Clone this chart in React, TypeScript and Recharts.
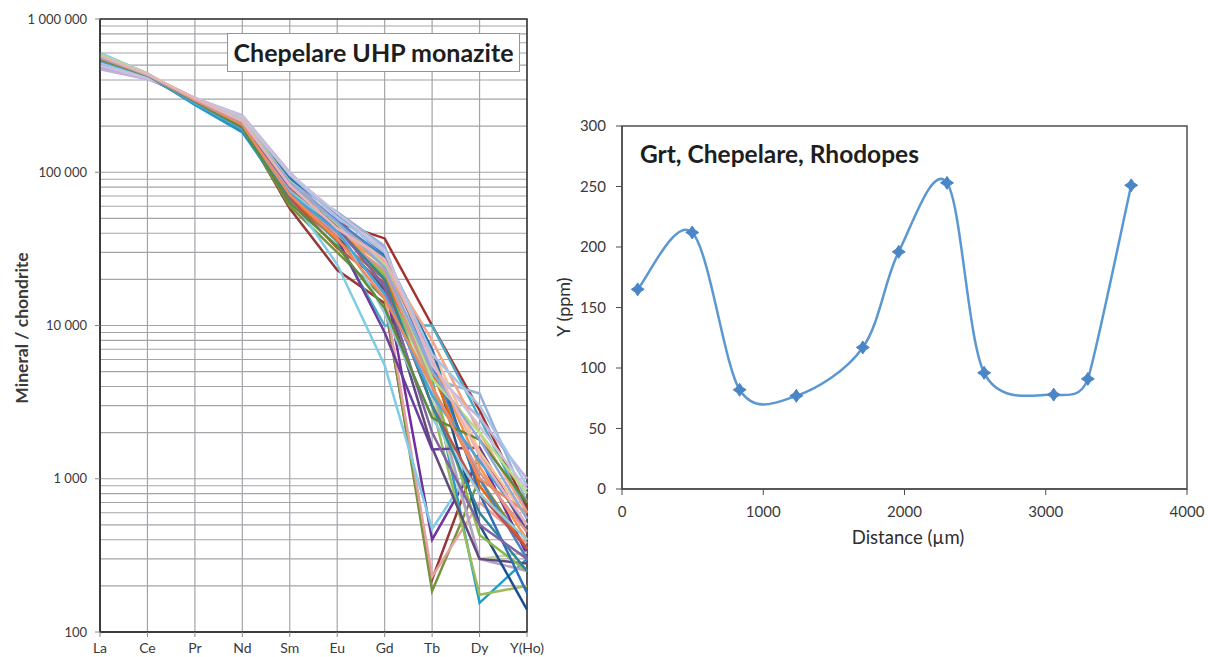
import React from "react";
import {
  LineChart,
  Line,
  XAxis,
  YAxis,
  CartesianGrid,
  ReferenceArea,
} from "recharts";

// left panel: chondrite-normalised REE patterns, Chepelare UHP monazite
const elements = ["La", "Ce", "Pr", "Nd", "Sm", "Eu", "Gd", "Tb", "Dy", "Y(Ho)"];
const logTicks = [100, 1000, 10000, 100000, 1000000];
const logGridValues = [
  100, 200, 300, 400, 500, 600, 700, 800, 900,
  1000, 2000, 3000, 4000, 5000, 6000, 7000, 8000, 9000,
  10000, 20000, 30000, 40000, 50000, 60000, 70000, 80000, 90000,
  100000, 200000, 300000, 400000, 500000, 600000, 700000, 800000, 900000,
  1000000,
];

// one row per analysed spot, values in element order
const spots: number[][] = [
  [500000, 420000, 300000, 205000, 75000, 47000, 37000, 10000, 2800, 650],
  [530000, 430000, 305000, 200000, 58000, 23000, 14000, 220, 1500, 450],
  [490000, 420000, 290000, 195000, 60000, 30000, 15000, 185, 1000, 350],
  [560000, 425000, 295000, 210000, 80000, 40000, 16000, 230, 700, 380],
  [520000, 415000, 300000, 215000, 85000, 45000, 20000, 400, 1400, 320],
  [600000, 440000, 280000, 185000, 70000, 25000, 5500, 470, 1400, 500],
  [540000, 430000, 275000, 182000, 66000, 36000, 18000, 4500, 155, 300],
  [510000, 425000, 285000, 190000, 72000, 35000, 10000, 10000, 2500, 600],
  [575000, 435000, 290000, 200000, 78000, 42000, 22000, 3000, 175, 200],
  [590000, 440000, 292000, 205000, 82000, 44000, 24000, 3500, 300, 330],
  [480000, 410000, 300000, 225000, 90000, 48000, 26000, 4000, 300, 250],
  [500000, 415000, 298000, 212000, 76000, 38000, 17000, 1600, 300, 280],
  [530000, 425000, 296000, 208000, 74000, 37000, 9000, 1550, 1600, 450],
  [545000, 430000, 302000, 215000, 95000, 52000, 30000, 6000, 500, 140],
  [555000, 428000, 298000, 210000, 80000, 41000, 21000, 4200, 430, 250],
  [470000, 405000, 305000, 235000, 100000, 50000, 32000, 5000, 2500, 1000],
  [500000, 415000, 300000, 222000, 88000, 55000, 33000, 4500, 3600, 700],
  [560000, 430000, 295000, 205000, 72000, 40000, 25000, 6000, 1200, 400],
  [540000, 425000, 290000, 200000, 70000, 36000, 20000, 5000, 900, 350],
  [580000, 438000, 300000, 215000, 83000, 43000, 27000, 7000, 1500, 550],
  [520000, 422000, 292000, 203000, 85000, 48000, 28000, 5500, 1000, 300],
  [505000, 418000, 288000, 198000, 92000, 53000, 29000, 7000, 800, 180],
  [560000, 432000, 297000, 207000, 68000, 32000, 19000, 3000, 800, 350],
  [550000, 430000, 295000, 212000, 76000, 39000, 23000, 4000, 1100, 450],
  [570000, 435000, 303000, 218000, 84000, 42000, 26000, 8000, 2000, 600],
  [595000, 442000, 285000, 188000, 74000, 45000, 12000, 2500, 800, 400],
  [510000, 420000, 283000, 186000, 70000, 43000, 20000, 3000, 600, 250],
  [525000, 422000, 296000, 210000, 80000, 44000, 18000, 2000, 500, 300],
  [585000, 440000, 300000, 220000, 87000, 46000, 25000, 4500, 2000, 800],
  [515000, 418000, 304000, 228000, 96000, 51000, 30000, 6500, 3000, 900],
  [495000, 412000, 306000, 232000, 98000, 54000, 31000, 5500, 2200, 850],
  [535000, 426000, 282000, 190000, 73000, 41000, 16000, 3500, 1300, 500],
  [545000, 428000, 290000, 196000, 63000, 33000, 13000, 2500, 1800, 700],
  [555000, 430000, 294000, 204000, 71000, 37000, 15000, 4000, 1000, 600],
  [565000, 432000, 300000, 213000, 86000, 47000, 24000, 5000, 1800, 550],
  [575000, 436000, 302000, 216000, 82000, 43000, 27000, 6000, 1400, 500],
];

const spotColors = [
  "#a5302e", "#953735", "#77933c", "#e6a0a0", "#7030a0", "#7fcce6",
  "#1fa0c8", "#4bacc6", "#9bbb59", "#c3d69b", "#b3a2c7", "#604a7b",
  "#6a3d9a", "#1f4e8c", "#8db84a", "#c0b0dc", "#95b3d7", "#f79646",
  "#e46c0a", "#fac090", "#4f81bd", "#2c6fb7", "#c0504d", "#d99694",
  "#f4a582", "#93cddd", "#31859c", "#8064a2", "#b7dd85", "#a6c4e8",
  "#ccc1da", "#4aa3df", "#5f8a3c", "#ee8a5e", "#92a9d8", "#e8b4b8",
];

// right panel: Y profile across the garnet
const distance = [111, 497, 833, 1234, 1705, 1959, 2301, 2564, 3056, 3298, 3605];
const yPpm = [165, 212, 82, 77, 117, 196, 253, 96, 78, 91, 251];
const distTicks = [0, 1000, 2000, 3000, 4000];
const ppmTicks = [0, 50, 100, 150, 200, 250, 300];

const reeRows = elements.map((el, i) => {
  const row: Record<string, string | number> = { el };
  spots.forEach((s, k) => {
    row["s" + k] = s[i];
  });
  return row;
});

const profileRows = distance.map((d, i) => ({ d, y: yPpm[i] }));

const spaced = (v: number) => String(v).replace(/\B(?=(\d{3})+(?!\d))/g, " ");

const dist = (a: number[], b: number[]) => Math.hypot(a[0] - b[0], a[1] - b[1]);

// Excel-style smoothed line: Bezier with 1/6 tangents, shortened near short segments
const excelSmooth: any = (context: any) => {
  let pts: number[][] = [];
  const factor = (p0: number[], p1: number[], p2: number[]) => {
    const d02 = dist(p0, p2);
    if (d02 === 0) return 0;
    return Math.min(1 / 6, dist(p0, p1) / (2 * d02), dist(p1, p2) / (2 * d02));
  };
  return {
    areaStart() {},
    areaEnd() {},
    lineStart() {
      pts = [];
    },
    point(x: number, y: number) {
      pts.push([+x, +y]);
    },
    lineEnd() {
      if (!pts.length) return;
      context.moveTo(pts[0][0], pts[0][1]);
      for (let i = 0; i < pts.length - 1; i++) {
        const p0 = pts[i - 1] || pts[i];
        const p1 = pts[i];
        const p2 = pts[i + 1];
        const p3 = pts[i + 2] || p2;
        const f1 = i === 0 ? 1 / 6 : factor(p0, p1, p2);
        const f2 = i + 2 >= pts.length ? 1 / 6 : factor(p1, p2, p3);
        context.bezierCurveTo(
          p1[0] + (p2[0] - p0[0]) * f1,
          p1[1] + (p2[1] - p0[1]) * f1,
          p2[0] - (p3[0] - p1[0]) * f2,
          p2[1] - (p3[1] - p1[1]) * f2,
          p2[0],
          p2[1]
        );
      }
    },
  };
};

const StarMarker = (props: any) => {
  const { cx, cy } = props;
  if (cx == null || cy == null) return null;
  const r = 6.5;
  const k = 2.6;
  const pts = [
    [cx, cy - r], [cx + k, cy - k], [cx + r, cy], [cx + k, cy + k],
    [cx, cy + r], [cx - k, cy + k], [cx - r, cy], [cx - k, cy - k],
  ]
    .map((p) => p.join(","))
    .join(" ");
  return <polygon key={`m-${cx}-${cy}`} points={pts} fill="#4a86c6" stroke="#4a86c6" strokeWidth={1} />;
};

export default function App() {
  return (
    <div
      style={{
        position: "absolute",
        left: 0,
        top: 0,
        width: 1208,
        height: 657,
        background: "#fff",
        fontFamily: "Lato, 'Open Sans', sans-serif",
        overflow: "hidden",
      }}
    >
      <div style={{ position: "absolute", left: 0, top: 0 }}>
        <LineChart
          width={560}
          height={657}
          data={reeRows}
          margin={{ top: 19, right: 33, bottom: 0, left: 0 }}
        >
          <CartesianGrid
            stroke="#a4a4aa"
            strokeWidth={1.2}
            horizontalValues={logGridValues}
            verticalValues={elements}
          />
          <XAxis
            dataKey="el"
            scale="point"
            padding={{ left: 0, right: 0 }}
            interval={0}
            height={25}
            tickSize={5}
            tickMargin={6}
            axisLine={{ stroke: "#333", strokeWidth: 1.5 }}
            tickLine={{ stroke: "#888" }}
            tick={{ fill: "#3a3a3a", fontSize: 14 }}
          />
          <YAxis
            scale="log"
            domain={[100, 1000000]}
            ticks={logTicks}
            interval={0}
            width={100}
            tickSize={5}
            tickMargin={8}
            tickFormatter={spaced}
            axisLine={{ stroke: "#333", strokeWidth: 1.5 }}
            tickLine={{ stroke: "#888" }}
            tick={{ fill: "#3a3a3a", fontSize: 13 }}
          />
          {spots.map((_, k) => (
            <Line
              key={k}
              dataKey={"s" + k}
              type="linear"
              stroke={spotColors[k % spotColors.length]}
              strokeWidth={2.5}
              dot={false}
              activeDot={false}
              isAnimationActive={false}
            />
          ))}
          <ReferenceArea
            x1="La"
            x2="Y(Ho)"
            y1={100}
            y2={1000000}
            fill="none"
            fillOpacity={0}
            stroke="#333"
            strokeWidth={1.5}
            ifOverflow="visible"
          />
        </LineChart>
      </div>

      <div
        style={{
          position: "absolute",
          left: 227,
          top: 33,
          width: 291,
          height: 37,
          border: "1.5px solid #8fa35e",
          background: "#fff",
          fontWeight: 700,
          fontSize: 25,
          lineHeight: "37px",
          textAlign: "center",
          color: "#1e1e1e",
          whiteSpace: "nowrap",
        }}
      >
        Chepelare UHP monazite
      </div>

      <div
        style={{
          position: "absolute",
          left: 21,
          top: 328,
          transform: "translate(-50%, -50%) rotate(-90deg)",
          fontWeight: 700,
          fontSize: 17.5,
          color: "#3a3a3a",
          whiteSpace: "nowrap",
        }}
      >
        Mineral / chondrite
      </div>

      <div style={{ position: "absolute", left: 560, top: 0 }}>
        <LineChart
          width={648}
          height={657}
          data={profileRows}
          margin={{ top: 126, right: 21, bottom: 138, left: 0 }}
        >
          <XAxis
            dataKey="d"
            type="number"
            domain={[0, 4000]}
            ticks={distTicks}
            interval={0}
            height={30}
            tickSize={6}
            tickMargin={11}
            axisLine={{ stroke: "#4d4d4d", strokeWidth: 1.5 }}
            tickLine={{ stroke: "#4d4d4d" }}
            tick={{ fill: "#3a3a3a", fontSize: 15 }}
          />
          <YAxis
            type="number"
            domain={[0, 300]}
            ticks={ppmTicks}
            interval={0}
            width={62}
            tickSize={6}
            tickMargin={10}
            axisLine={{ stroke: "#4d4d4d", strokeWidth: 1.5 }}
            tickLine={{ stroke: "#4d4d4d" }}
            tick={{ fill: "#3a3a3a", fontSize: 15 }}
          />
          <ReferenceArea
            x1={0}
            x2={4000}
            y1={0}
            y2={300}
            fill="none"
            fillOpacity={0}
            stroke="#4d4d4d"
            strokeWidth={1.5}
            ifOverflow="visible"
          />
          <Line
            dataKey="y"
            type={excelSmooth}
            stroke="#5b97d1"
            strokeWidth={2.5}
            dot={<StarMarker />}
            activeDot={false}
            isAnimationActive={false}
          />
        </LineChart>
      </div>

      <div
        style={{
          position: "absolute",
          left: 640,
          top: 139,
          fontWeight: 700,
          fontSize: 24.5,
          color: "#1e1e1e",
          whiteSpace: "nowrap",
        }}
      >
        Grt, Chepelare, Rhodopes
      </div>

      <div
        style={{
          position: "absolute",
          left: 563,
          top: 307,
          transform: "translate(-50%, -50%) rotate(-90deg)",
          fontSize: 18,
          color: "#2e2e2e",
          whiteSpace: "nowrap",
        }}
      >
        Y (ppm)
      </div>

      <div
        style={{
          position: "absolute",
          left: 908,
          top: 537,
          transform: "translate(-50%, -50%)",
          fontSize: 18.5,
          color: "#2e2e2e",
          whiteSpace: "nowrap",
        }}
      >
        Distance (µm)
      </div>
    </div>
  );
}
